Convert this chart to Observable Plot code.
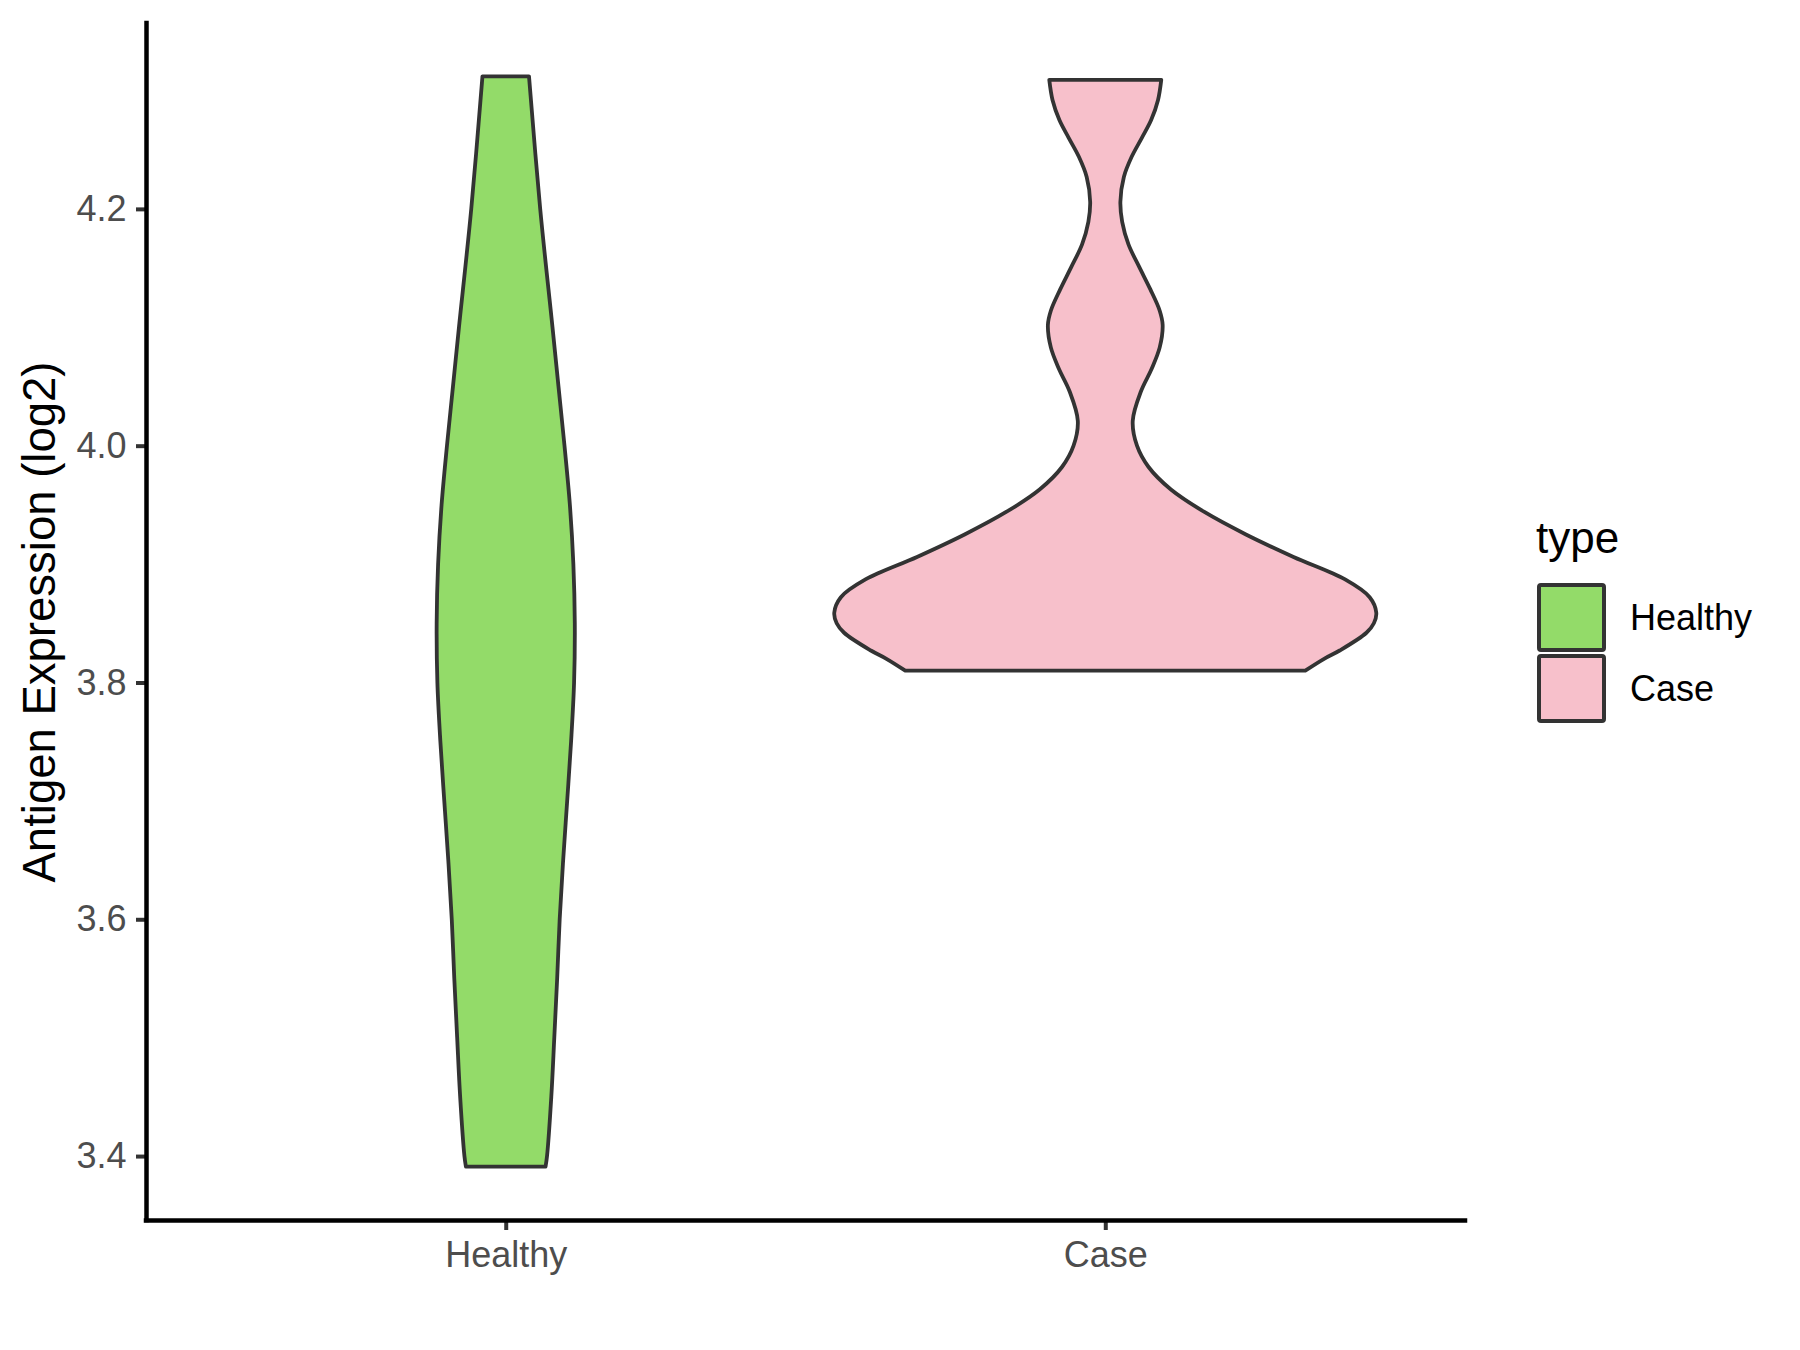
<!DOCTYPE html>
<html><head><meta charset="utf-8">
<script src="https://cdn.jsdelivr.net/npm/d3@7"></script>
<script src="https://cdn.jsdelivr.net/npm/@observablehq/plot@0.6"></script>
<style>
html,body{margin:0;padding:0;background:#fff;}
#wrap{position:relative;width:1800px;height:1350px;}
#legend{position:absolute;left:0;top:0;pointer-events:none;}
</style></head><body><div id="wrap"></div>
<script>
const types = ["Healthy", "Case"];
const typeColors = ["#93DB69", "#F7C0CB"];
const yTicks = [3.4, 3.6, 3.8, 4.0, 4.2];
const yTitle = "Antigen Expression (log2)";
const legendTitle = "type";

// violin outlines: level (log2) and half-width (in category units)
const healthyLevels    = [3.391, 3.40, 3.45, 3.50, 3.55, 3.60, 3.65, 3.70, 3.75, 3.80, 3.85, 3.90, 3.95, 4.00, 4.05, 4.10, 4.20, 4.312];
const healthyHalfWidth = [0.0664, 0.0689, 0.0760, 0.0810, 0.0858, 0.0900, 0.0958, 0.1025, 0.1090, 0.1140, 0.1152, 0.1128, 0.1070, 0.0980, 0.0880, 0.0780, 0.0575, 0.0388];

const caseLevels    = [3.810, 3.820, 3.827, 3.842, 3.850, 3.859, 3.872, 3.887, 3.906, 3.925, 3.944, 3.963, 3.982, 4.000, 4.021, 4.046, 4.065, 4.083, 4.102, 4.114, 4.132, 4.151, 4.170, 4.189, 4.206, 4.227, 4.244, 4.260, 4.275, 4.292, 4.309];
const caseHalfWidth = [0.3336, 0.365, 0.391, 0.4356, 0.448, 0.452, 0.441, 0.400, 0.314, 0.2346, 0.1653, 0.1095, 0.0722, 0.0529, 0.0458, 0.0596, 0.0774, 0.0908, 0.0957, 0.0908, 0.0752, 0.0566, 0.0387, 0.0282, 0.0252, 0.0310, 0.0440, 0.0610, 0.0765, 0.0880, 0.0934];

const rows = [];
healthyLevels.forEach((v, i) => rows.push({type: "Healthy", pos: 1, y: v, hw: healthyHalfWidth[i]}));
caseLevels.forEach((v, i) => rows.push({type: "Case", pos: 2, y: v, hw: caseHalfWidth[i]}));

const font = '"Liberation Sans", Arial, Helvetica, sans-serif';
const yDomain = [3.346, 4.357];

const plot = Plot.plot({
  width: 1800, height: 1350,
  marginLeft: 146, marginRight: 335, marginTop: 23, marginBottom: 130,
  style: {fontFamily: font, background: "#fff", overflow: "visible"},
  x: {domain: [0.4, 2.6], axis: null},
  y: {domain: yDomain, axis: null},
  color: {domain: types, range: typeColors},
  marks: [
    Plot.areaX(rows, {z: "type", y: "y", x1: d => d.pos - d.hw, x2: d => d.pos + d.hw,
      fill: "type", stroke: "#333333", strokeWidth: 3.8, strokeLinejoin: "round", curve: "catmull-rom"}),
    Plot.axisY(yTicks, {tickSize: 10, tickPadding: 10, fontSize: 36, fill: "#4D4D4D",
      stroke: "#333333", strokeWidth: 4, tickFormat: d => d.toFixed(1), label: null}),
    Plot.axisX([1, 2], {tickSize: 10, tickPadding: 11, fontSize: 36, fill: "#4D4D4D",
      stroke: "#333333", strokeWidth: 4, tickFormat: d => types[d - 1], label: null}),
    Plot.ruleX([0.4], {stroke: "#000", strokeWidth: 4.5, strokeLinecap: "square"}),
    Plot.ruleY([yDomain[0]], {stroke: "#000", strokeWidth: 4.5, strokeLinecap: "square"}),
    Plot.text([yTitle], {text: d => d, frameAnchor: "left", dx: -106, rotate: -90,
      fontSize: 45.5, fill: "#000", textAnchor: "middle"})
  ]
});
document.getElementById("wrap").appendChild(plot);

// legend
const lg = d3.select("#wrap").append("svg").attr("id", "legend")
  .attr("width", 1800).attr("height", 1350)
  .style("font-family", font);
lg.append("text").attr("x", 1536).attr("y", 553).attr("font-size", 44).attr("fill", "#000").text(legendTitle);
types.forEach((t, i) => {
  const y0 = 585 + i * 71;
  lg.append("rect").attr("x", 1539).attr("y", y0).attr("width", 65).attr("height", 65)
    .attr("rx", 2).attr("fill", typeColors[i]).attr("stroke", "#333333").attr("stroke-width", 4);
  lg.append("text").attr("x", 1630).attr("y", y0 + 32.5).attr("dy", "0.35em")
    .attr("font-size", 36).attr("fill", "#000").text(t);
});
</script>
</body></html>
